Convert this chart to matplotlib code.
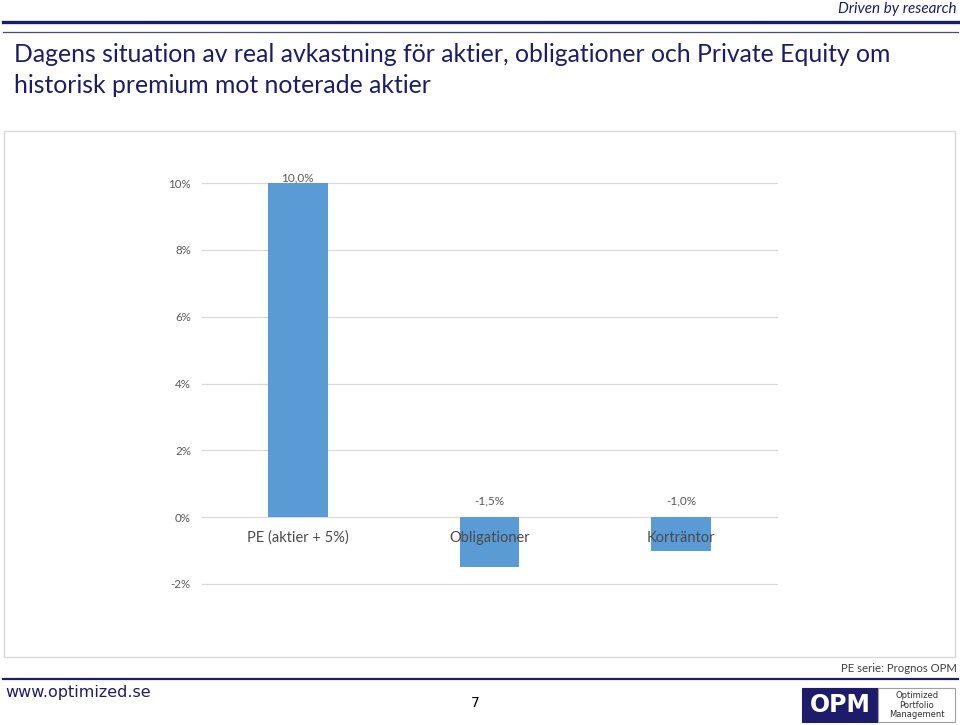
#! /usr/bin/env python3
# coding: utf-8

import matplotlib.pyplot as plt
from matplotlib.patches import Rectangle
from matplotlib.lines import Line2D

####
# Les donnees
####

kategorier = ["PE (aktier + 5%)", "Obligationer", "Korträntor"]
avkastning = [10.0, -1.5, -1.0]
y_ticks = [-2, 0, 2, 4, 6, 8, 10]

rubrik = ("Dagens situation av real avkastning för aktier, obligationer och Private Equity om\n"
          "historisk premium mot noterade aktier")

NAVY = "#1c1c6b"
BAR = "#5b9bd5"
GRID = "#d9d9d9"
GRAY = "#595959"


def pix(x, y):
    """pixels (haut gauche) -> coordonnees figure"""
    return x / 960, 1 - y / 725


def decor(fig):
    """lignes, titre et pied de page de la diapo"""
    # lignes du haut
    fig.add_artist(Line2D([3 / 960, 958 / 960], [1 - 22 / 725] * 2, color=NAVY, lw=2.4))
    fig.add_artist(Line2D([3 / 960, 958 / 960], [1 - 32 / 725] * 2, color="#4a4a7a", lw=0.9))
    fig.text(*pix(957, 9), "Driven by research", ha="right", va="center",
             fontsize=11, style="italic", color=NAVY, family="Lato")
    fig.text(*pix(14, 70), rubrik, ha="left", va="center", fontsize=17.8,
             color=NAVY, family="Lato", linespacing=1.38)

    # cadre du graphique
    fig.add_artist(Rectangle(pix(4, 657), 951 / 960, 526 / 725, fill=False,
                             ec=GRID, lw=1.0))

    # pied de page
    fig.text(*pix(957, 669), "PE serie: Prognos OPM", ha="right", va="center",
             fontsize=8.2, color="#404040", family="Lato")
    fig.add_artist(Line2D([3 / 960, 958 / 960], [1 - 679 / 725] * 2, color=NAVY, lw=1.6))
    fig.text(*pix(5, 692), "www.optimized.se", ha="left", va="center",
             fontsize=11.5, color=NAVY, family="DejaVu Sans")
    fig.text(*pix(475, 703), "7", ha="center", va="center", fontsize=10, color="black",
             family="DejaVu Sans")

    # logo OPM
    fig.add_artist(Rectangle(pix(802, 722), 76 / 960, 34 / 725, fc=NAVY, ec=NAVY, lw=0.8))
    fig.add_artist(Rectangle(pix(878, 722), 77 / 960, 34 / 725, fc="white", ec="#a0a0a0", lw=0.8))
    fig.text(*pix(840, 705), "OPM", ha="center", va="center", fontsize=17,
             weight="bold", color="white", family="DejaVu Sans")
    fig.text(*pix(917, 705), "Optimized\nPortfolio\nManagement", ha="center", va="center",
             fontsize=6, color="#303030", family="DejaVu Sans", linespacing=1.05)


def graphique(fig):
    ax = fig.add_axes([202 / 960, 1 - 584 / 725, 575 / 960, 401 / 725])
    x = range(len(kategorier))
    ax.bar(x, avkastning, width=0.31, color=BAR, zorder=2)
    ax.set_xlim(-0.5, 2.5)
    ax.set_ylim(-2, 10)
    ax.set_yticks(y_ticks)
    ax.set_yticklabels([f"{t}%" for t in y_ticks])
    ax.grid(axis="y", color=GRID, lw=0.9, zorder=0)
    for g in ax.yaxis.get_gridlines():
        g.set_clip_on(False)
    for s in ax.spines.values():
        s.set_visible(False)
    ax.tick_params(axis="y", length=0, pad=8, labelsize=8.3, labelcolor=GRAY)
    ax.set_xticks([])
    for lbl in ax.get_yticklabels():
        lbl.set_family("Lato")

    # etiquettes des categories juste sous la ligne zero
    for i, k in enumerate(kategorier):
        ax.annotate(k, (i, 0), xytext=(0, -15), textcoords="offset points",
                    ha="center", va="center", fontsize=10.5, color="#4a4a4a",
                    family="Lato", zorder=3)

    # etiquettes des valeurs
    for i, v in enumerate(avkastning):
        txt = f"{v:.1f}%".replace(".", ",")
        if v >= 0:
            pos, off = v, 4
        else:
            pos, off = 0, 12
        ax.annotate(txt, (i, pos), xytext=(0, off), textcoords="offset points",
                    ha="center", va="center", fontsize=8.5, color=GRAY,
                    family="Lato", annotation_clip=False)


def main():
    fig = plt.figure(figsize=(9.6, 7.25), dpi=100)
    decor(fig)
    graphique(fig)
    fig.savefig("out.png", dpi=100)


if __name__ == "__main__":
    main()
